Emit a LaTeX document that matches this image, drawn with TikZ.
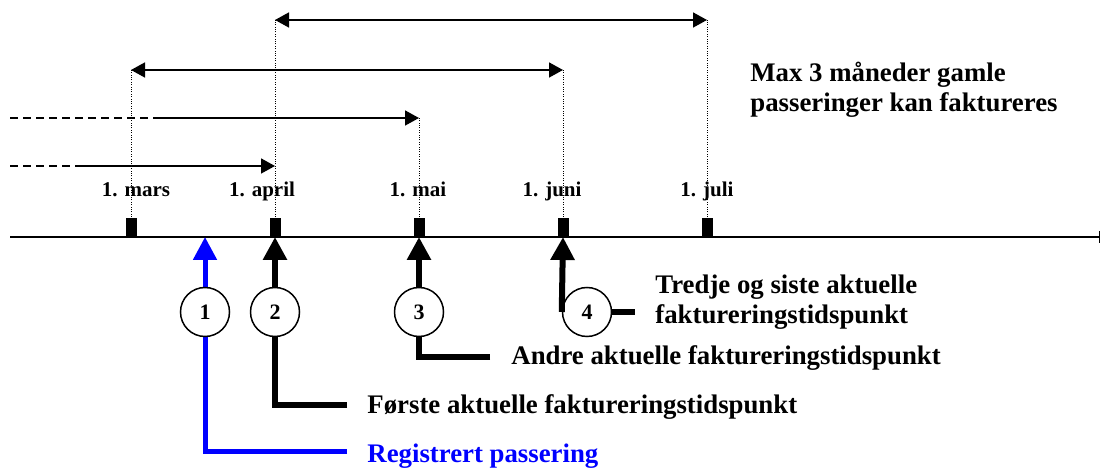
\documentclass[tikz,border=0pt]{standalone}
\usepackage{fontspec}
\setmainfont{Liberation Serif}
\usetikzlibrary{arrows.meta,calc}
\definecolor{regblue}{RGB}{0,0,255}
\tikzset{
  >=Triangle,
  tick/.style={
    fill          = black,
    inner sep     = 0pt,
    minimum width = 5.5pt,
    minimum height= 9.5pt,
    anchor        = south},
  month/.style={
    font      = \fontsize{10.5}{12}\selectfont\bfseries,
    inner sep = 0pt,
    anchor    = base},
  callout/.style={
    font      = \fontsize{13.4}{15}\selectfont\bfseries,
    inner sep = 0pt,
    anchor    = west,
    align     = left},
  num/.style={
    circle,
    draw,
    fill         = white,
    line width   = 0.75pt,
    minimum size = 24.5pt,
    inner sep    = 0pt,
    font         = \fontsize{11}{12}\selectfont\bfseries},
  span/.style={
    line width = 0.8pt,
    {Triangle[length=7pt,width=7.5pt]}-{Triangle[length=7pt,width=7.5pt]}},
  reach/.style={
    line width = 0.8pt,
    -{Triangle[length=7pt,width=7.5pt]}},
  lead/.style={
    line width = 0.8pt,
    dash pattern = on 4pt off 2.5pt},
  guide/.style={
    dash pattern = on 0.5pt off 0.7pt,
    line width   = 0.5pt},
  pointer/.style={
    line width = 3pt,
    -{Triangle[length=11.5pt,width=11.5pt]}}
}

\begin{document}
\begin{tikzpicture}[x=0.5pt, y=-0.5pt]
\useasboundingbox (0,0) rectangle (1102,469);

% time axis
\coordinate (axs) at (10,237);
\coordinate (axe) at (1100,237);
\draw[line width=0.65pt, -{Bar[width=6pt]}] (axs) -- (axe);

% month ticks
\node[tick] (tmar) at (131,237) {};
\node[tick] (tapr) at (275,237) {};
\node[tick] (tmai) at (419,237) {};
\node[tick] (tjun) at (563,237) {};
\node[tick] (tjul) at (707,237) {};

\node[month] (lmar) at (136,197) {1. mars};
\node[month] (lapr) at (262,197) {1. april};
\node[month] (lmai) at (418,197) {1. mai};
\node[month] (ljun) at (552,197) {1. juni};
\node[month] (ljul) at (707,197) {1. juli};

% ranges above the axis
\coordinate (aprtop) at (275,20);
\coordinate (jultop) at (707,20);
\coordinate (martop) at (131,70);
\coordinate (juntop) at (563,70);
\coordinate (maitop) at (419,118);
\coordinate (aprmid) at (275,166);

\draw[guide] (tapr.north) -- (aprtop);
\draw[guide] (tjul.north) -- (jultop);
\draw[guide] (tmar.north) -- (martop);
\draw[guide] (tjun.north) -- (juntop);
\draw[guide] (tmai.north) -- (maitop);

\draw[span] (aprtop) -- (jultop);
\draw[span] (martop) -- (juntop);

\coordinate (d1s) at (10,118);
\coordinate (d1e) at (155,118);
\draw[lead] (d1s) -- (d1e);
\draw[reach] (d1e) -- (maitop);

\coordinate (d2s) at (10,166);
\coordinate (d2e) at (80,166);
\draw[lead] (d2s) -- (d2e);
\draw[reach] (d2e) -- (aprmid);

\node[callout] (maxtxt) at (750,90)
  {Max 3 måneder gamle\\passeringer kan faktureres};

% pointers below the axis
\coordinate (reg)  at (205,237);
\coordinate (e1) at (347,452);
\coordinate (e2) at (347,405);
\coordinate (e3) at (490,357);
\coordinate (e4) at (635,312);

\draw[pointer, regblue, line width=2.5pt] (e1) -| (reg);
\draw[pointer] (e2) -| (tapr.south);
\draw[pointer] (e3) -| (tmai.south);

\node[num] (n1) at (205,312) {1};
\node[num] (n2) at (275,312) {2};
\node[num] (n3) at (419,312) {3};
\node[num] (n4) at (587,312) {4};

\draw[pointer] (n4.west) -- (tjun.south);
\draw[line width=3pt] (n4.east) -- (e4);

\node[callout, text=regblue] (txt1) at (367,456) {Registrert passering};
\node[callout] (txt2) at (367,407) {Første aktuelle faktureringstidspunkt};
\node[callout] (txt3) at (511,358) {Andre aktuelle faktureringstidspunkt};
\node[callout] (txt4) at (655,302)
  {Tredje og siste aktuelle\\faktureringstidspunkt};

\end{tikzpicture}
\end{document}
